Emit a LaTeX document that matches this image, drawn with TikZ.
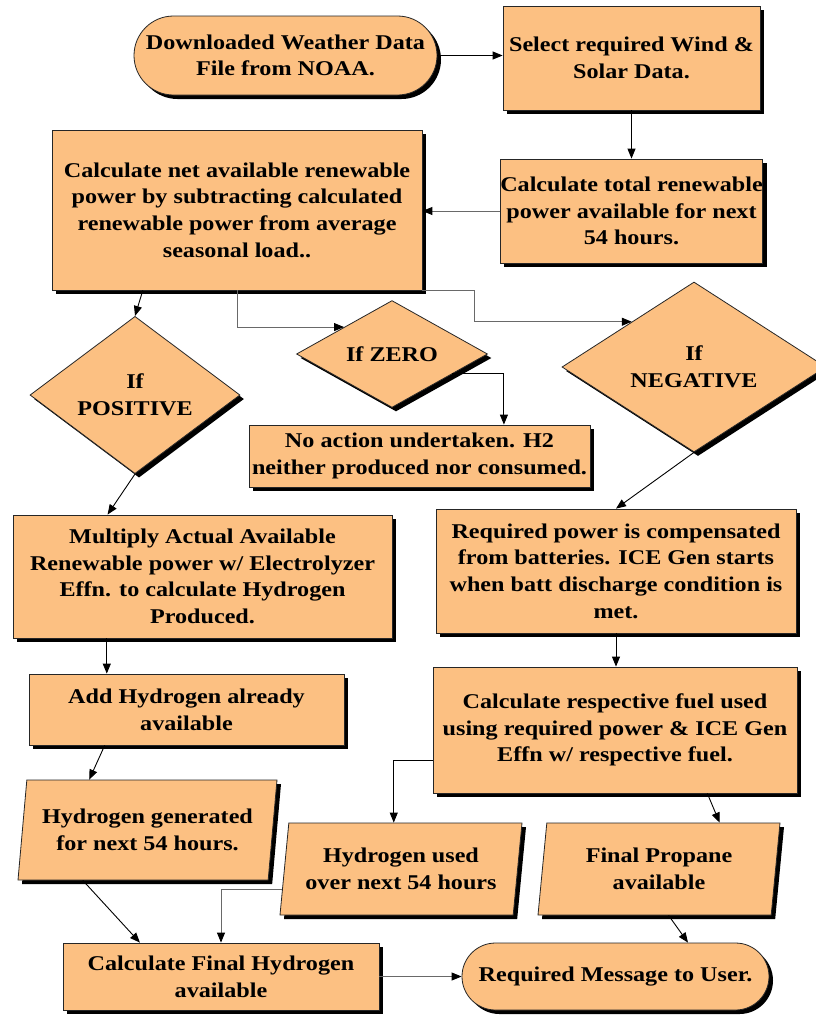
\documentclass[tikz,border=0pt]{standalone}
\usepackage{fontspec}
\setmainfont{Liberation Serif}[FakeStretch=1.15]
\usetikzlibrary{shapes.geometric,shapes.misc,shadows,arrows.meta,calc}
\definecolor{boxfill}{RGB}{252,192,130}
\definecolor{linegray}{RGB}{105,105,105}
\tikzset{
  base/.style={draw=black!85, line width=0.8pt, fill=boxfill,
    font=\fontsize{21}{26.7}\selectfont\bfseries, align=center, inner sep=0pt,
    drop shadow={shadow xshift=4pt, shadow yshift=-4pt, opacity=1, fill=black}},
  procbox/.style={base, rectangle},
  term/.style={base, rounded rectangle},
  decision/.style={base, diamond},
  iobox/.style={base, trapezium, trapezium left angle=78, trapezium right angle=102,
    trapezium stretches body},
  arr/.style={line width=0.9pt, -{Triangle[length=10pt,width=8pt,color=black]}},
  garr/.style={arr, draw=linegray},
}
\begin{document}
\begin{tikzpicture}[x=1pt,y=-1pt]
\useasboundingbox[fill=white] (0,0) rectangle (815,1015);
% nodes
\node[term, minimum width=303, minimum height=79] (term1) at (285.5,55.5)
  {Downloaded Weather Data\\File from NOAA.};
\node[procbox, minimum width=257, minimum height=104] (sel) at (631.5,58)
  {Select required Wind \&\\Solar Data.};
\node[procbox, minimum width=257, minimum height=104] (tot) at (631.5,211)
  {Calculate total renewable\\power available for next\\54 hours.};
\node[procbox, minimum width=370, minimum height=160] (net) at (237,210)
  {Calculate net available renewable\\power by subtracting calculated\\renewable power from average\\seasonal load..};
\node[decision, minimum width=210, minimum height=131] (pos) at (135,395)
  {If\\POSITIVE};
\node[decision, minimum width=191, minimum height=100] (zero) at (392,354)
  {If ZERO};
\node[decision, minimum width=264, minimum height=170] (neg) at (694,367)
  {If\\NEGATIVE};
\node[procbox, minimum width=341, minimum height=62] (noact) at (419.5,456)
  {No action undertaken. H2\\neither produced nor consumed.};
\node[procbox, minimum width=379, minimum height=123] (mult) at (202.5,576.5)
  {Multiply Actual Available\\Renewable power w/ Electrolyzer\\Effn. to calculate Hydrogen\\Produced.};
\node[procbox, minimum width=360, minimum height=124] (reqp) at (616,571)
  {Required power is compensated\\from batteries. ICE Gen starts\\when batt discharge condition is\\met.};
\node[procbox, minimum width=315, minimum height=71] (addh) at (186.5,709.5)
  {Add Hydrogen already\\available};
\node[procbox, minimum width=364, minimum height=126] (calcr) at (615,730)
  {Calculate respective fuel used\\using required power \& ICE Gen\\Effn w/ respective fuel.};
\node[iobox, minimum width=259, minimum height=100] (hgen) at (147.5,830)
  {Hydrogen generated\\for next 54 hours.};
\node[iobox, minimum width=242, minimum height=92] (hused) at (401,869)
  {Hydrogen used\\over next 54 hours};
\node[iobox, minimum width=242, minimum height=92] (prop) at (659,869)
  {Final Propane\\available};
\node[procbox, minimum width=316, minimum height=67] (calcf) at (221,976.5)
  {Calculate Final Hydrogen\\available};
\node[term, minimum width=307, minimum height=67] (term2) at (615.5,976.5)
  {Required Message to User.};
% connectors
\draw[arr] (term1.east) -- (term1.east -| sel.west);
\draw[arr] (sel.south) -- (tot.north);
\draw[garr] (tot.west) -- (tot.west -| net.east);
\coordinate (n1) at ($(net.south west)!0.246!(net.south east)$);
\draw[arr] (n1) -- (pos.north);
\draw[garr] (net.south) |- ($(zero.west)!0.5!(zero.north)$);
\draw[garr] (net.south east) -- ++(52,0) |- ($(neg.west)!0.53!(neg.north)$);
\coordinate (z1) at ($(zero.east)!0.37!(zero.south)$);
\draw[arr] (z1) -| ($(noact.north west)!0.747!(noact.north east)$);
\draw[arr] (pos.south) -- ($(mult.north west)!0.25!(mult.north east)$);
\draw[arr] (neg.south) -- (reqp.north);
\coordinate (m1) at ($(mult.south west)!0.248!(mult.south east)$);
\draw[arr] (m1) -- (m1 |- addh.north);
\draw[arr] (reqp.south) -- (reqp.south |- calcr.north);
\draw[arr] ($(addh.south west)!0.241!(addh.south east)$) -- ($(hgen.top left corner)!0.25!(hgen.top right corner)$);
\coordinate (c1) at ($(calcr.north west)!0.74!(calcr.south west)$);
\draw[arr] (c1) -| ($(hused.top left corner)!0.45!(hused.top right corner)$);
\draw[arr] ($(calcr.south west)!0.753!(calcr.south east)$) -- ($(prop.top left corner)!0.74!(prop.top right corner)$);
\draw[arr] ($(hgen.bottom left corner)!0.26!(hgen.bottom right corner)$) -- ($(calcf.north west)!0.244!(calcf.north east)$);
\draw[garr] ($(hused.bottom left corner)!0.28!(hused.top left corner)$) -| (calcf.north);
\draw[garr] (calcf.east) -- (calcf.east -| term2.west);
\draw[arr] ($(prop.bottom left corner)!0.56!(prop.bottom right corner)$) -- ($(term2.north)+(72.5,0)$);
\end{tikzpicture}
\end{document}
